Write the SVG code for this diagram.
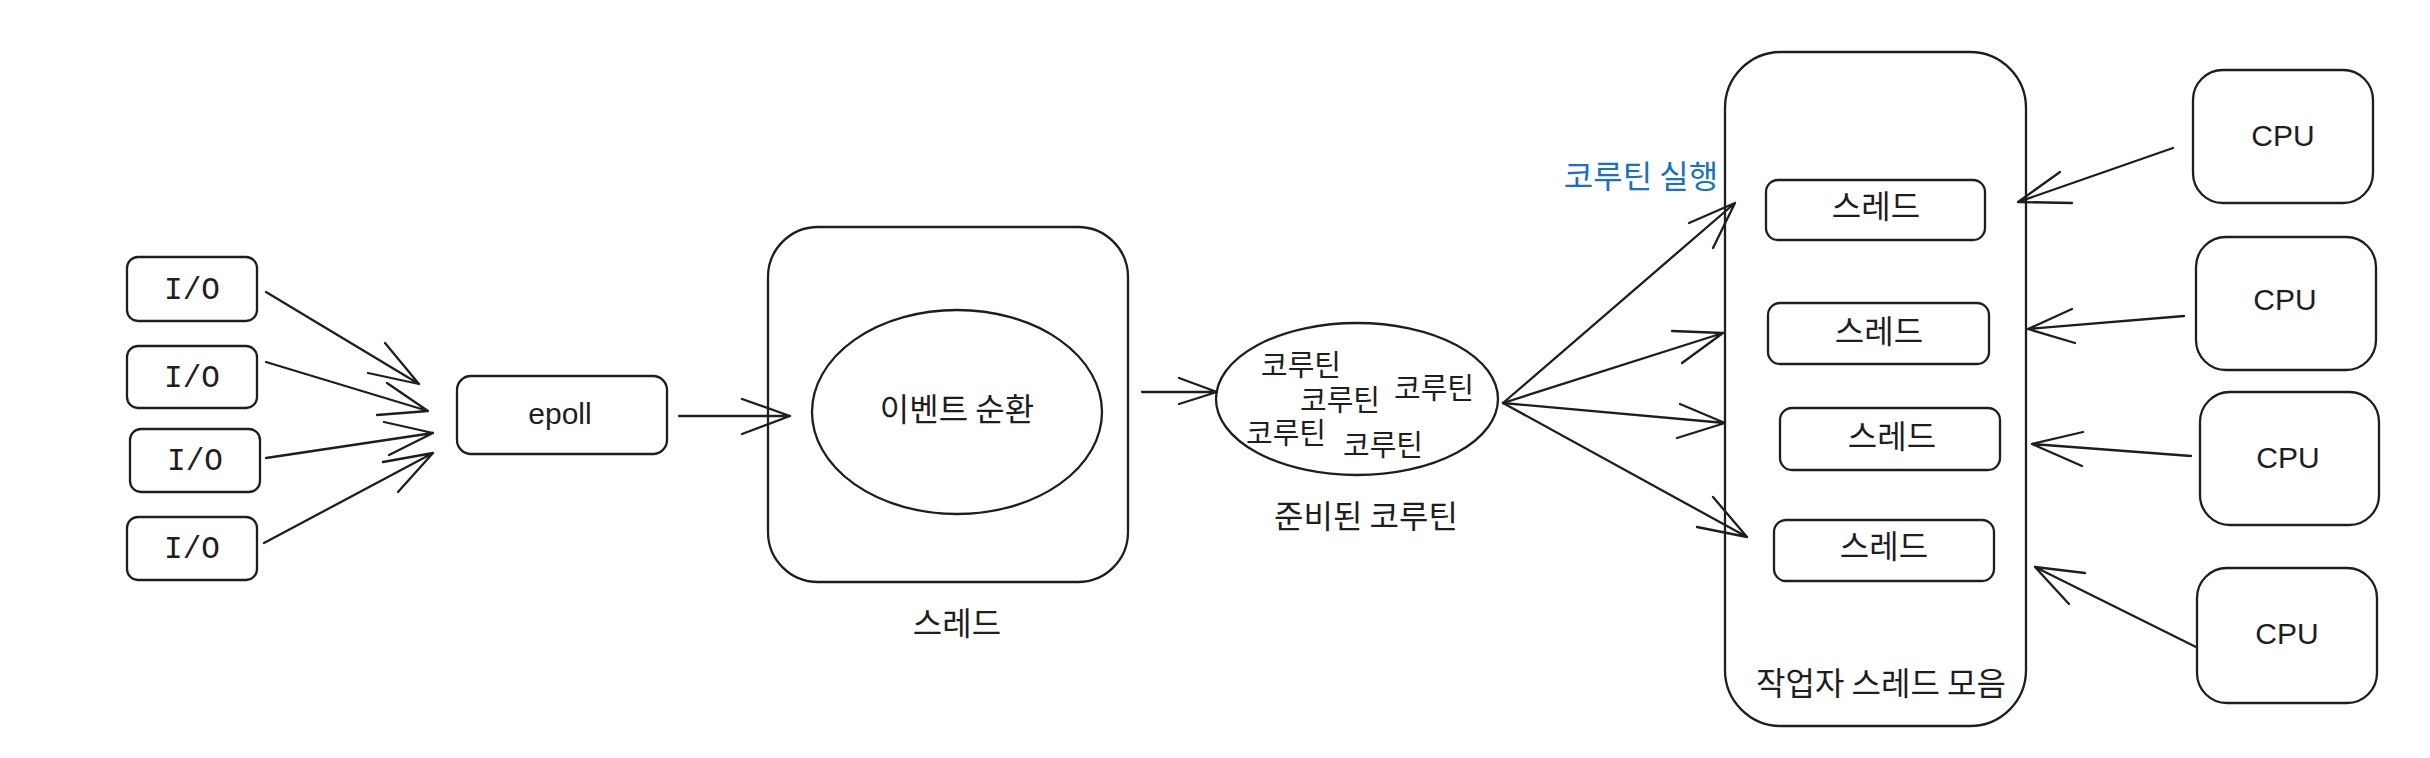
<svg xmlns="http://www.w3.org/2000/svg" width="2430" height="758" viewBox="0 0 2430 758">
<style>
.box{fill:none;stroke:#1e1e1e;stroke-width:2.3}
.ln{fill:none;stroke:#1e1e1e;stroke-width:2.3;stroke-linecap:round;stroke-linejoin:round}
.lat{font-family:"Liberation Sans",Arial,sans-serif;font-size:30px;fill:#1e1e1e;text-anchor:middle}
.mono{font-family:"Liberation Mono","Courier New",monospace;font-size:31px;fill:#1e1e1e;text-anchor:middle}
.ko{font-family:"Noto Sans CJK KR","Noto Sans",sans-serif;font-size:32px;fill:#1e1e1e;text-anchor:middle}
.ko2{font-family:"Noto Sans CJK KR","Noto Sans",sans-serif;font-size:29px;fill:#1e1e1e;text-anchor:middle}
.blue{fill:#1971c2}
</style>
<rect width="2430" height="758" fill="#ffffff"/>

<g id="io1"><rect class="box" x="127" y="257" width="130" height="64" rx="11"/><text class="mono" x="192" y="299">I/O</text></g>
<g id="io2"><rect class="box" x="127" y="346" width="130" height="62" rx="11"/><text class="mono" x="192" y="387">I/O</text></g>
<g id="io3"><rect class="box" x="130" y="429" width="130" height="63" rx="11"/><text class="mono" x="195" y="470">I/O</text></g>
<g id="io4"><rect class="box" x="127" y="517" width="130" height="63" rx="11"/><text class="mono" x="192" y="558">I/O</text></g>

<g id="epoll"><rect class="box" x="457" y="376" width="210" height="78" rx="14"/><text class="lat" x="560" y="424">epoll</text></g>

<g id="thread"><rect class="box" x="768" y="227" width="360" height="355" rx="50"/><text class="ko" x="957" y="635">스레드</text></g>
<g id="eventloop"><ellipse class="box" cx="957" cy="412" rx="145" ry="102"/><text class="ko" x="957" y="421">이벤트 순환</text></g>

<g id="ready"><ellipse class="box" cx="1357" cy="399" rx="141" ry="76"/>
<text class="ko2" x="1301" y="376">코루틴</text>
<text class="ko2" x="1340" y="411">코루틴</text>
<text class="ko2" x="1434" y="399">코루틴</text>
<text class="ko2" x="1286" y="444">코루틴</text>
<text class="ko2" x="1383" y="456">코루틴</text>
<text class="ko" x="1366" y="528">준비된 코루틴</text></g>

<g id="run-label"><text class="ko blue" x="1641" y="188">코루틴 실행</text></g>

<g id="workers"><rect class="box" x="1725" y="52" width="301" height="674" rx="56"/><text class="ko" x="1881" y="695">작업자 스레드 모음</text></g>
<g id="t1"><rect class="box" x="1766" y="180" width="219" height="60" rx="12"/><text class="ko" x="1876" y="218">스레드</text></g>
<g id="t2"><rect class="box" x="1768" y="303" width="221" height="61" rx="12"/><text class="ko" x="1879" y="343">스레드</text></g>
<g id="t3"><rect class="box" x="1780" y="408" width="220" height="62" rx="12"/><text class="ko" x="1892" y="448">스레드</text></g>
<g id="t4"><rect class="box" x="1774" y="520" width="220" height="61" rx="12"/><text class="ko" x="1884" y="558">스레드</text></g>

<g id="cpu1"><rect class="box" x="2193" y="70" width="180" height="133" rx="30"/><text class="lat" x="2283" y="146">CPU</text></g>
<g id="cpu2"><rect class="box" x="2196" y="237" width="180" height="133" rx="30"/><text class="lat" x="2285" y="310">CPU</text></g>
<g id="cpu3"><rect class="box" x="2200" y="392" width="179" height="133" rx="30"/><text class="lat" x="2288" y="468">CPU</text></g>
<g id="cpu4"><rect class="box" x="2197" y="568" width="180" height="135" rx="30"/><text class="lat" x="2287" y="644">CPU</text></g>

<g id="connectors">
<path class="ln" d="M266 292 L419 384 M385 343 L419 384 L368 373"/>
<path class="ln" d="M266 362 L428 411 M387 383 L428 411 L377 415"/>
<path class="ln" d="M266 458 L433 433 M384 422 L433 433 L389 455"/>
<path class="ln" d="M264 543 L433 453 M383 462 L433 453 L398 492"/>
<path class="ln" d="M679 416 L790 416 M742 399 L790 416 L742 434"/>
<path class="ln" d="M1142 392 L1217 392 M1179 378 L1217 392 L1179 404"/>
<path class="ln" d="M1503 403 L1735 203 M1689 223 L1735 203 L1713 248"/>
<path class="ln" d="M1503 403 L1723 333 M1672 331 L1723 333 L1682 363"/>
<path class="ln" d="M1503 403 L1725 423 M1680 404 L1725 423 L1677 438"/>
<path class="ln" d="M1503 403 L1747 537 M1713 497 L1747 537 L1697 527"/>
<path class="ln" d="M2173 148 L2018 202 M2060 172 L2018 202 L2072 203"/>
<path class="ln" d="M2184 316 L2028 329 M2072 309 L2028 329 L2075 343"/>
<path class="ln" d="M2191 456 L2032 444 M2083 432 L2032 444 L2082 466"/>
<path class="ln" d="M2196 647 L2035 567 M2085 573 L2035 567 L2069 604"/>
</g>
</svg>
